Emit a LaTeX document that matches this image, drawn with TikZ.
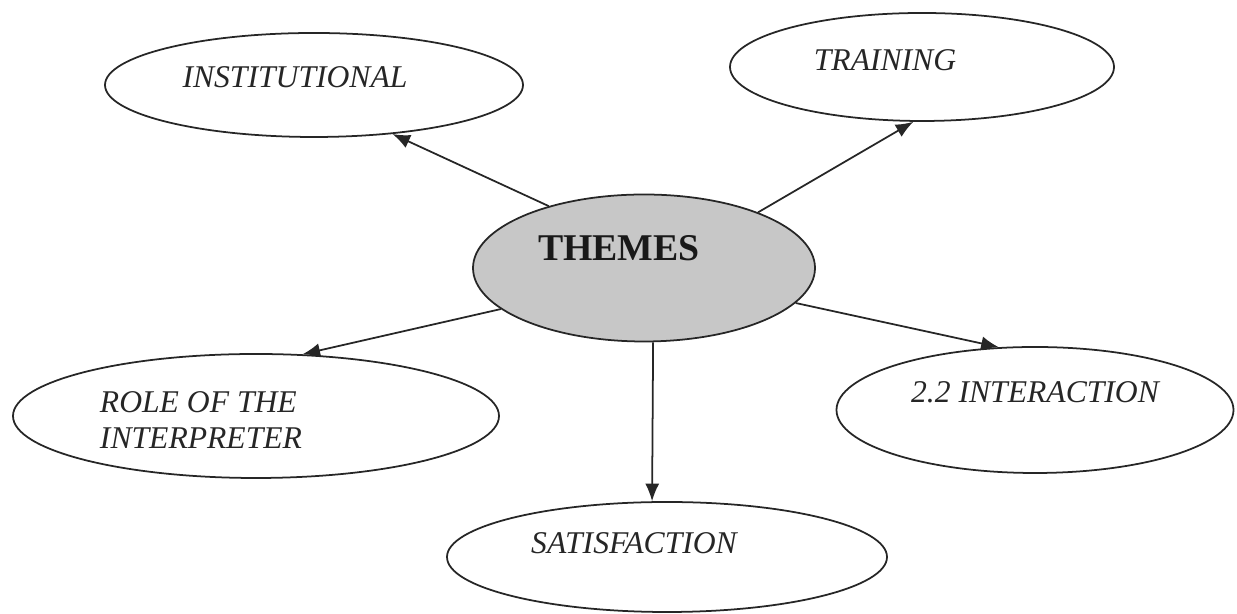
\documentclass[tikz,border=0pt]{standalone}
\usepackage{fontspec}
\setmainfont{Liberation Serif}
\usepackage{tikz}
\usetikzlibrary {arrows,arrows.meta,positioning,shapes.geometric}
\tikzset{bubble/.style={
    % The shape:
    ellipse,
    inner sep=0pt,
    % The border:
    line width=1pt,
    draw=black!85,
    },
    hub/.style={
    ellipse,
    inner sep=0pt,
    line width=1pt,
    draw=black!85,
    % The filling:
    fill=black!22,
    },
    lbl/.style={
    font=\fontsize{18}{20}\selectfont\itshape,
    text=black!85,
    inner sep=0pt,
    align=left,
    },
    hublbl/.style={
    font=\fontsize{21.5}{24}\selectfont\bfseries,
    text=black!90,
    inner sep=0pt,
    },
    link/.style={
    line width=1pt,
    draw=black!85,
    -{Latex[length=10pt,width=8pt]},
    },
}

\begin{document}
\begin{tikzpicture}
    \useasboundingbox (0,0) rectangle (24.74,12.28);

    \node (themes) [hub,minimum width=68.4mm,minimum height=29.4mm,
        label={[hublbl,shift={(-0.5,0.4)}]center:THEMES}] at (12.88,6.92) {};

    \node (inst)   [bubble,minimum width=83.6mm,minimum height=20.8mm,
        label={[lbl,shift={(-0.38,0.16)}]center:INSTITUTIONAL}] at (6.28,10.58) {};
    \node (train)  [bubble,minimum width=76.8mm,minimum height=21.6mm,
        label={[lbl,shift={(-0.74,0.14)}]center:TRAINING}] at (18.44,10.94) {};
    \node (role)   [bubble,minimum width=97.2mm,minimum height=24.8mm,
        label={[lbl,shift={(-1.1,-0.08)}]center:{ROLE OF THE\\INTERPRETER}}] at (5.12,3.96) {};
    \node (satis)  [bubble,minimum width=88mm,minimum height=22mm,
        label={[lbl,shift={(-0.66,0.28)}]center:SATISFACTION}] at (13.34,1.14) {};
    \node (inter)  [bubble,minimum width=79.4mm,minimum height=25.2mm,
        label={[lbl,shift={(0,0.36)}]center:2.2 INTERACTION}] at (20.70,4.08) {};

    \path (themes.147) edge[link] (inst.-32);
    \path (themes.26)  edge[link] (train.-99);
    \path (themes.196) edge[link] (role.53);
    \path (themes.-83) edge[link] (satis.105);
    \path (themes.-13) edge[link] (inter.120);
  \end{tikzpicture}
\end{document}
